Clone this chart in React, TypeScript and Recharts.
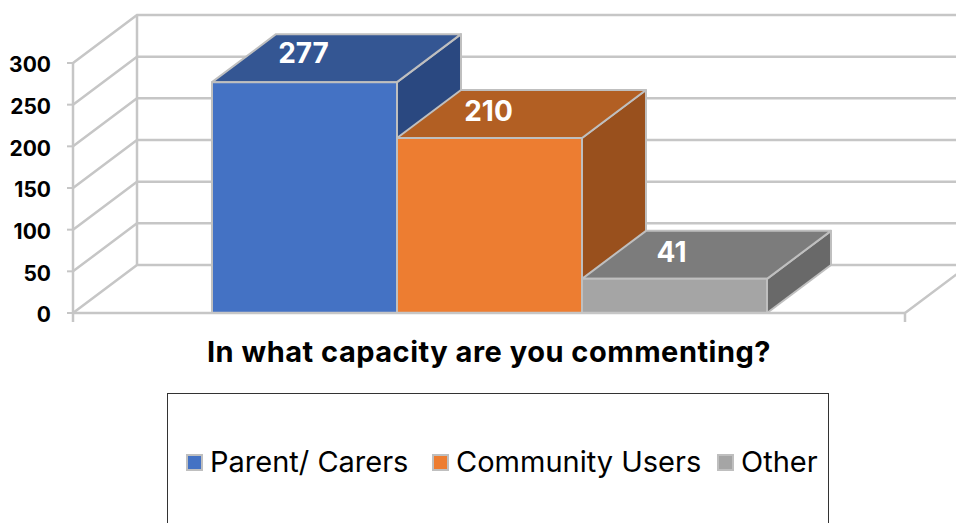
import React from 'react'
import { Bar, BarChart, CartesianGrid, LabelList, Legend, XAxis, YAxis } from 'recharts'

const categories = ['In what capacity are you commenting?']
const parentCarers = [277]
const communityUsers = [210]
const other = [41]
const yTicks = [0, 50, 100, 150, 200, 250, 300]

const data = categories.map((name, i) => ({
  name,
  'Parent/ Carers': parentCarers[i],
  'Community Users': communityUsers[i],
  Other: other[i],
}))

const FONT = 'Inter, "Open Sans", sans-serif'
const EDGE = '#bfbfbf'
const WALL = '#c6c6c6'
// how far the box goes "into" the page
const DX = 64
const DY = 48
const PLOT_BOTTOM = 313
const PLOT_TOP = 63
const LEGEND_ITEM_WIDTHS = [246, 285, 110]

const Box3d = ({ x, y, width, height, fill, top, side }: any) => {
  const x2 = x + width
  const y2 = y + height
  return (
    <g stroke={ EDGE } strokeWidth={ 2 } strokeLinejoin="round">
      <path d={ `M${ x2 },${ y }L${ x2 + DX },${ y - DY }V${ y2 - DY }L${ x2 },${ y2 }Z` } fill={ side }/>
      <path d={ `M${ x },${ y }L${ x + DX },${ y - DY }H${ x2 + DX }L${ x2 },${ y }Z` } fill={ top }/>
      <rect x={ x } y={ y } width={ width } height={ height } fill={ fill }/>
    </g>
  )
}

// grid line runs up the side wall and then along the back wall
const WallLine = ({ x1, x2, y1 }: any) => {
  const isFloor = Math.abs(y1 - PLOT_BOTTOM) < 1
  const isTop = Math.abs(y1 - PLOT_TOP) < 1
  return (
    <g fill="none" stroke={ WALL } strokeWidth={ 2.5 }>
      <path d={ `M${ x1 },${ y1 }L${ x1 + DX },${ y1 - DY }H${ x2 + DX }` }/>
      { isFloor && <path d={ `M${ x2 },${ y1 }L${ x2 + DX },${ y1 - DY }M${ x1 },${ y1 }V${ y1 + 9 }M${ x2 },${ y1 }V${ y1 + 9 }` }/> }
      { isTop && <path d={ `M${ x1 + DX },${ y1 - DY }V${ PLOT_BOTTOM - DY }` }/> }
    </g>
  )
}

const LegendBox = ({ payload }: any) => (
  <div style={ {
    display: 'flex',
    alignItems: 'center',
    height: 134,
    paddingLeft: 18,
    boxSizing: 'border-box',
    fontFamily: FONT,
    fontSize: 29,
    color: '#000',
    whiteSpace: 'nowrap',
  } }>
    { (payload || []).map((item: any, i: number) => (
      <div key={ item.value } style={ { display: 'flex', alignItems: 'center', width: LEGEND_ITEM_WIDTHS[i], flex: 'none' } }>
        <span style={ {
          width: 13,
          height: 13,
          background: item.color,
          border: `2px solid ${ EDGE }`,
          marginRight: 7,
          marginTop: 3,
        } }/>
        <span>{ item.value }</span>
      </div>
    )) }
  </div>
)

const labelStyle = { fill: '#fff', fontFamily: FONT, fontSize: 28, fontWeight: 700 }

const App = () => (
  <div style={ { position: 'absolute', left: 0, top: 0, width: 956, height: 523, overflow: 'hidden', background: '#fff' } }>
    <BarChart
      width={ 956 }
      height={ 523 }
      data={ data }
      margin={ { top: 63, right: 51, bottom: 0, left: 0 } }
      barGap={ 0 }
      barCategoryGap={ 139 }
    >
      <CartesianGrid vertical={ false } horizontal={ (p: any) => <WallLine key={ p.key } { ...p }/> }/>
      <XAxis
        dataKey="name"
        height={ 210 }
        interval={ 0 }
        tickLine={ false }
        axisLine={ { stroke: WALL, strokeWidth: 2.5 } }
        tickMargin={ 22 }
        tick={ { fill: '#000', fontFamily: FONT, fontSize: 29, fontWeight: 700, letterSpacing: 0.5 } }
      />
      <YAxis
        type="number"
        width={ 73 }
        domain={ [0, 300] }
        ticks={ yTicks }
        interval={ 0 }
        tickSize={ 6 }
        tickMargin={ 16 }
        axisLine={ { stroke: WALL, strokeWidth: 2.5 } }
        tickLine={ { stroke: WALL, strokeWidth: 2 } }
        tick={ { fill: '#000', fontFamily: FONT, fontSize: 21, fontWeight: 700, dy: 2 } }
      />
      <Legend
        layout="horizontal"
        align="center"
        verticalAlign="middle"
        itemSorter={ null }
        content={ <LegendBox/> }
        wrapperStyle={ {
          left: 167,
          top: 393,
          width: 662,
          height: 138,
          border: '1px solid #333',
          boxSizing: 'border-box',
          background: '#fff',
        } }
      />
      <Bar
        dataKey="Parent/ Carers"
        fill="#4472c4"
        isAnimationActive={ false }
        shape={ (p: any) => <Box3d { ...p } top="#345693" side="#2a4880"/> }
      >
        <LabelList dataKey="Parent/ Carers" position="top" offset={ 19 } dx={ -1 } style={ labelStyle }/>
      </Bar>
      <Bar
        dataKey="Community Users"
        fill="#ed7d31"
        isAnimationActive={ false }
        shape={ (p: any) => <Box3d { ...p } top="#b25f23" side="#99501d"/> }
      >
        <LabelList dataKey="Community Users" position="top" offset={ 17 } dx={ -1 } style={ labelStyle }/>
      </Bar>
      <Bar
        dataKey="Other"
        fill="#a5a5a5"
        isAnimationActive={ false }
        shape={ (p: any) => <Box3d { ...p } top="#7c7c7c" side="#696969"/> }
      >
        <LabelList dataKey="Other" position="top" offset={ 17 } dx={ -3 } style={ labelStyle }/>
      </Bar>
    </BarChart>
  </div>
)

export default App
